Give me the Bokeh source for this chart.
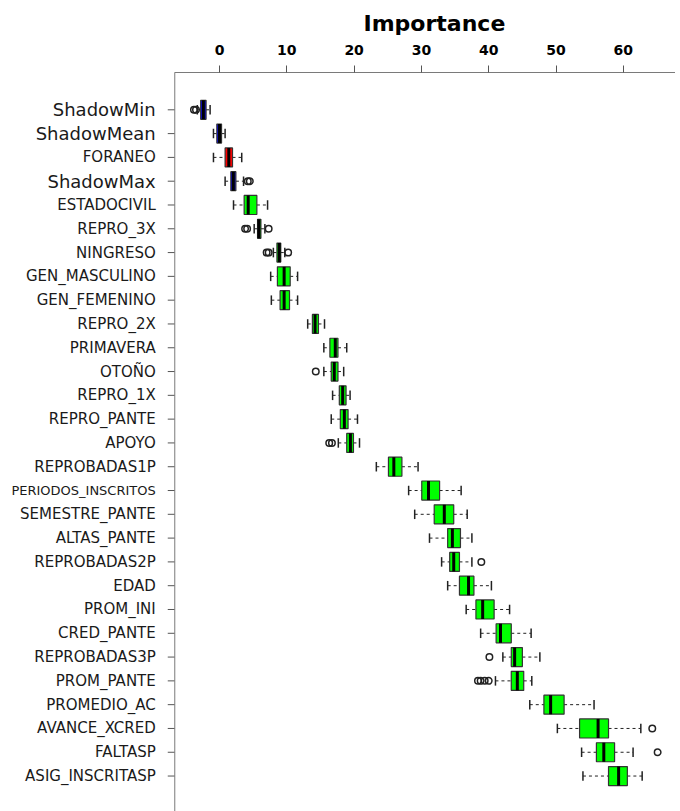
from bokeh.plotting import figure
from bokeh.models import (Range1d, LinearAxis, FixedTicker, ColumnDataSource, Span)
from bokeh.core.properties import value
from bokeh.embed import file_html
from bokeh.resources import INLINE

# ---------------- data (top to bottom) ----------------
features = ["ShadowMin", "ShadowMean", "FORANEO", "ShadowMax", "ESTADOCIVIL", "REPRO_3X",
            "NINGRESO", "GEN_MASCULINO", "GEN_FEMENINO", "REPRO_2X", "PRIMAVERA", "OTOÑO",
            "REPRO_1X", "REPRO_PANTE", "APOYO", "REPROBADAS1P", "PERIODOS_INSCRITOS",
            "SEMESTRE_PANTE", "ALTAS_PANTE", "REPROBADAS2P", "EDAD", "PROM_INI", "CRED_PANTE",
            "REPROBADAS3P", "PROM_PANTE", "PROMEDIO_AC", "AVANCE_XCRED", "FALTASP",
            "ASIG_INSCRITASP"]
whisk_lo = [-3.3, -0.9, -0.9, 0.83, 2.08, 5.15, 8.0, 7.6, 7.7, 13.1, 15.5, 15.5, 16.8, 16.6,
            17.65, 23.3, 28.1, 29.0, 31.2, 33.0, 33.9, 36.65, 38.8, 42.1, 41.0, 46.1, 50.2,
            53.8, 54.0]
q1 = [-2.8, -0.4, 0.83, 1.68, 3.66, 5.65, 8.53, 8.6, 9.0, 13.8, 16.4, 16.6, 17.8, 17.95,
      18.9, 25.1, 30.05, 31.9, 33.9, 34.2, 35.65, 38.1, 41.1, 43.35, 43.35, 48.2, 53.5,
      56.0, 57.8]
median = [-2.4, 0.0, 1.38, 2.05, 4.26, 5.85, 8.87, 9.6, 9.6, 14.2, 17.2, 17.05, 18.3, 18.55,
          19.45, 25.9, 31.05, 33.4, 34.6, 34.8, 37.0, 39.1, 41.75, 43.85, 44.25, 49.2, 56.25,
          57.1, 59.3]
q3 = [-2.0, 0.3, 1.93, 2.43, 5.55, 6.15, 9.1, 10.5, 10.4, 14.7, 17.6, 17.6, 18.8, 19.1,
      19.9, 27.1, 32.7, 34.8, 35.8, 35.65, 37.8, 40.8, 43.35, 45.0, 45.2, 51.2, 57.8,
      58.7, 60.6]
whisk_hi = [-1.4, 0.83, 3.3, 3.57, 7.14, 6.74, 9.7, 11.6, 11.6, 15.6, 18.9, 18.45, 19.4,
            20.5, 20.8, 29.5, 35.9, 36.8, 37.5, 37.5, 40.4, 43.1, 46.3, 47.6, 46.4, 55.65,
            62.6, 61.45, 62.8]
outliers = [[-3.8, -3.5], [], [], [4.2, 4.5], [], [3.8, 4.1, 7.3], [7.0, 7.3, 10.2], [], [],
            [], [], [14.3], [], [], [16.3, 16.7], [], [], [], [], [38.9], [], [], [], [40.1],
            [38.4, 38.8, 39.4, 40.0], [], [64.3], [65.1], []]
decision = ["Shadow", "Shadow", "Rejected", "Shadow"] + ["Confirmed"] * 25
x_ticks = [0, 10, 20, 30, 40, 50, 60]

color_map = {"Shadow": "blue", "Rejected": "red", "Confirmed": "#00FF00"}

n = len(features)
pos = list(range(1, n + 1))
BOX = 0.8
STAPLE = 0.4

# geometry (pixels -> data units)
PX = 6.72                 # pixels per importance unit
X_ZERO_PX = 218.7         # page x of importance 0
FRAME_L = -6.65           # left edge of the boxed plot region
XL = -X_ZERO_PX / PX
XR = XL + 674 / PX
TICK = 7 / PX
LABEL_X = FRAME_L - 19 / PX

src = ColumnDataSource(dict(
    y=pos, lo=whisk_lo, q1=q1, med=median, q3=q3, hi=whisk_hi,
    top=[p_ - BOX / 2 for p_ in pos], bottom=[p_ + BOX / 2 for p_ in pos],
    stop=[p_ - STAPLE / 2 for p_ in pos], sbot=[p_ + STAPLE / 2 for p_ in pos],
    color=[color_map[d] for d in decision],
))

label_src = ColumnDataSource(dict(
    y=pos, t=features,
    fs=["18px" if f.startswith("Shadow") else ("13px" if f == "PERIODOS_INSCRITOS" else "15px")
        for f in features],
    x0=[FRAME_L - TICK] * n, x1=[FRAME_L] * n, lx=[LABEL_X] * n,
))

ox, oy = [], []
for p_, outs in zip(pos, outliers):
    for v in outs:
        ox.append(v)
        oy.append(p_)

FONT = "DejaVu Sans"
FRAME = "#7a7a7a"

p = figure(width=675, height=811, output_backend="svg", toolbar_location=None,
           x_range=Range1d(XL, XR), y_range=Range1d(30.49, -0.568),
           x_axis_location="above", y_axis_location=None,
           min_border_left=0, min_border_right=0, min_border_top=72, min_border_bottom=0)
p.outline_line_color = None
p.grid.visible = False
p.background_fill_color = "white"
p.border_fill_color = "white"

p.title.text = "Importance"
p.title.align = "left"
p.title.offset = 363
p.title.text_font = FONT
p.title.text_font_style = "bold"
p.title.text_font_size = "22px"
p.title.text_color = "black"
p.title.standoff = 11

# top axis (line limited to the boxed region)
xa = p.xaxis[0]
xa.ticker = FixedTicker(ticks=x_ticks)
xa.bounds = (FRAME_L, XR)
xa.major_label_text_font = FONT
xa.major_label_text_font_style = "bold"
xa.major_label_text_font_size = "14px"
xa.major_label_text_color = "black"
xa.major_label_standoff = 11
xa.major_tick_out = 7
xa.major_tick_in = 0
xa.minor_tick_out = 0
xa.minor_tick_in = 0
xa.axis_line_color = FRAME
xa.major_tick_line_color = "#555555"

# right border as an axis line
ra = LinearAxis(ticker=FixedTicker(ticks=[]), major_tick_out=0, major_tick_in=0,
                minor_tick_out=0, minor_tick_in=0, major_label_standoff=0,
                axis_line_color=FRAME)
p.add_layout(ra, "right")

# left border, ticks and feature labels
p.add_layout(Span(location=FRAME_L, dimension="height", line_color=FRAME, line_width=1))
p.segment(x0="x0", y0="y", x1="x1", y1="y", source=label_src, line_color="#555555",
          line_width=1)
p.text(x="lx", y="y", text="t", source=label_src, text_font=value(FONT),
       text_font_size="fs", text_align="right", text_baseline="middle",
       text_color="#1a1a1a")

# whiskers
p.segment(x0="lo", y0="y", x1="q1", y1="y", source=src, line_color="#222222",
          line_width=1, line_dash="3 3")
p.segment(x0="q3", y0="y", x1="hi", y1="y", source=src, line_color="#222222",
          line_width=1, line_dash="3 3")
# staples
p.segment(x0="lo", y0="stop", x1="lo", y1="sbot", source=src, line_color="#222222",
          line_width=1.5)
p.segment(x0="hi", y0="stop", x1="hi", y1="sbot", source=src, line_color="#222222",
          line_width=1.5)
# boxes
p.quad(left="q1", right="q3", top="top", bottom="bottom", source=src,
       fill_color="color", line_color="#333333", line_width=1.2)
# medians
p.segment(x0="med", y0="top", x1="med", y1="bottom", source=src, line_color="black",
          line_width=3)
# outliers
p.scatter(x=ox, y=oy, marker="circle", size=6.5, fill_color=None, line_color="#222222",
          line_width=1.5)

open("out.html", "w").write(file_html(p, INLINE))
